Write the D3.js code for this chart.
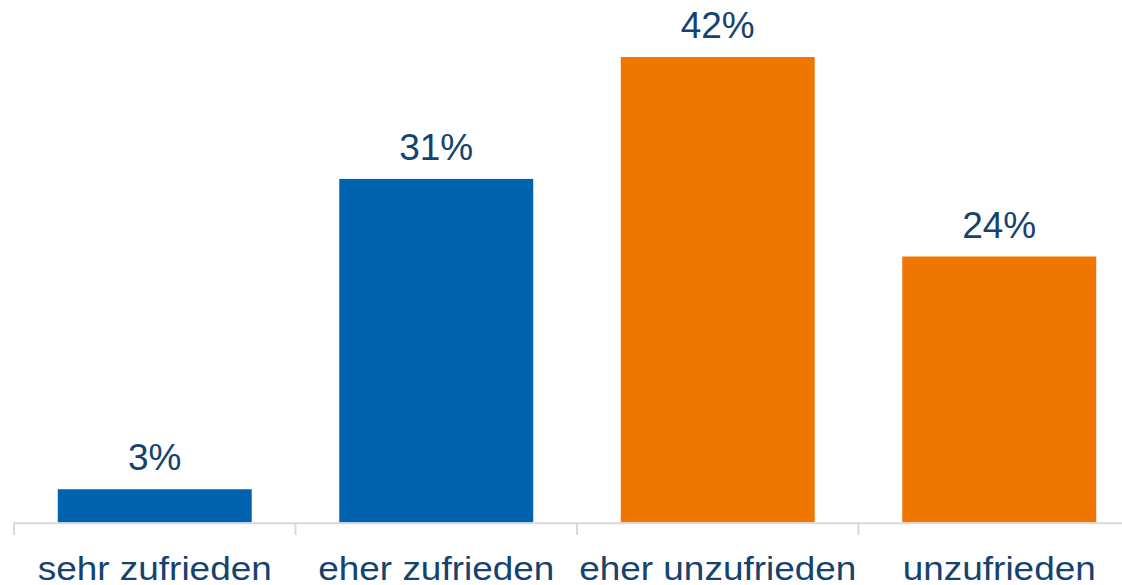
<!DOCTYPE html>
<html>
<head>
<meta charset="utf-8">
<script src="https://cdn.jsdelivr.net/npm/d3@7"></script>
<style>
  body { margin: 0; background: #fff; }
  text { font-family: Arial, "Liberation Sans", sans-serif; }
</style>
</head>
<body>
<div id="chart"></div>
<script>
// Zufriedenheit (Anteile in %)
var categories = ["sehr zufrieden", "eher zufrieden", "eher unzufrieden", "unzufrieden"];
var values = [3, 31, 42, 24];
var barColors = ["#0063b0", "#0063b0", "#ef7600", "#ef7600"];

var svgWidth = 1122;
var svgHeight = 585;

var svg = d3.select("#chart")
    .append("svg")
    .attr("width", svgWidth)
    .attr("height", svgHeight);

// band scale: step ~281.5px starting at x=14
var xScale = d3.scaleBand()
    .domain(categories)
    .range([14, 1140])
    .paddingInner(0.311)
    .paddingOuter(0.1555);

var yScale = d3.scaleLinear()
    .domain([0, d3.max(values)])
    .range([522.5, 57]);

// bars
svg.selectAll("rect.bar")
    .data(values)
    .enter()
    .append("rect")
    .attr("class", "bar")
    .attr("x", (d, i) => xScale(categories[i]))
    .attr("y", d => yScale(d))
    .attr("width", xScale.bandwidth())
    .attr("height", d => yScale(0) - yScale(d))
    .attr("fill", (d, i) => barColors[i]);

// x axis: light grey line with ticks at band boundaries
var axisG = svg.append("g");
axisG.append("line")
    .attr("x1", 14)
    .attr("x2", svgWidth)
    .attr("y1", 523.3)
    .attr("y2", 523.3)
    .attr("stroke", "#d9d9d9")
    .attr("stroke-width", 2);

var boundaries = categories.map(c => xScale(c) - xScale.step() * xScale.paddingOuter());
axisG.selectAll("line.tick")
    .data(boundaries)
    .enter()
    .append("line")
    .attr("class", "tick")
    .attr("x1", d => d)
    .attr("x2", d => d)
    .attr("y1", 522.5)
    .attr("y2", 535)
    .attr("stroke", "#d9d9d9")
    .attr("stroke-width", 2);

// category labels (glyphs in the original are a bit wider than plain Arial)
svg.selectAll("text.cat")
    .data(categories)
    .enter()
    .append("text")
    .attr("class", "cat")
    .attr("transform", d => `translate(${xScale(d) + xScale.bandwidth() / 2}, 579.5) scale(1.12, 1)`)
    .attr("text-anchor", "middle")
    .style("font-size", "33px")
    .style("fill", "#15426e")
    .text(d => d);

// value labels
svg.selectAll("text.val")
    .data(values)
    .enter()
    .append("text")
    .attr("class", "val")
    .attr("x", (d, i) => xScale(categories[i]) + xScale.bandwidth() / 2)
    .attr("y", d => yScale(d) - 19)
    .attr("text-anchor", "middle")
    .style("font-size", "37px")
    .style("fill", "#15426e")
    .text(d => d + "%");
</script>
</body>
</html>
